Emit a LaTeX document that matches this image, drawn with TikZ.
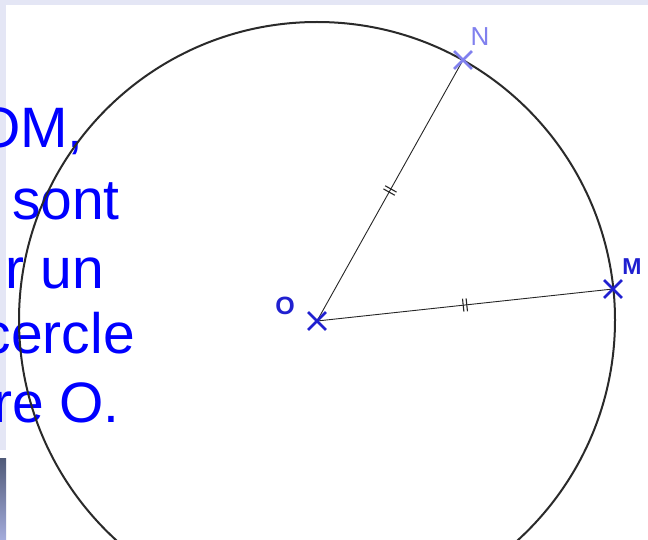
\documentclass[tikz,border=0pt]{standalone}
\usepackage{fontspec}
\setmainfont{Liberation Sans}
\usetikzlibrary{shapes.misc,decorations.markings}
\definecolor{strip}{HTML}{E4E6F5}
\definecolor{txtblue}{HTML}{0000FF}
\definecolor{ptblue}{HTML}{2020D0}
\definecolor{nblue}{HTML}{8080EE}
\definecolor{circgray}{HTML}{2A2A2A}
\tikzset{
  txt/.style={text=txtblue, inner sep=0pt, anchor=base east, font=\fontsize{57}{68}\selectfont},
  ptx/.style={cross out, draw=ptblue, line width=2.8pt, minimum size=15pt, inner sep=0pt},
  lbl/.style={text=ptblue, inner sep=0pt, font=\bfseries\fontsize{25}{28}\selectfont},
  seg/.style={line width=0.9pt, black!85},
  ticks/.style={postaction={decorate, decoration={markings, mark=at position 0.5 with {\draw[line width=1.1pt] (-1.8,-6.5) -- (-1.8,6.5) (1.8,-6.5) -- (1.8,6.5);}}}},
  circ/.style={draw=circgray, line width=2pt}
}
\begin{document}
\begin{tikzpicture}[x=1pt,y=-1pt]
\useasboundingbox (0,0) rectangle (648,540);
\clip (0,0) rectangle (648,540);
\fill[white] (0,0) rectangle (648,540);
\fill[strip] (0,0) rectangle (648,5);
\fill[strip] (0,0) rectangle (6,450);
\shade[top color={rgb,255:red,80;green,90;blue,120}, bottom color={rgb,255:red,164;green,172;blue,220}] (0,458) rectangle (6,540);
% text lines
\node[txt] (t1) at (84,148) {OM,};
\node[txt] (t2) at (120,220) {sont};
\node[txt] (t3) at (104,288) {r un};
\node[txt] (t4) at (135,353) {cercle};
\node[txt] (t5) at (120,422) {re O.};
% circle
\node[circle, circ, minimum size=596pt, inner sep=0pt] (C) at (317,320) {};
% points
\coordinate (O) at (317,321);
\coordinate (N) at (463,60);
\coordinate (M) at (613,289);
\draw[seg, ticks] (O) -- (N);
\draw[seg, ticks] (O) -- (M);
\node[ptx] (Ox) at (O) {};
\node[ptx, draw=nblue] (Nx) at (N) {};
\node[ptx] (Mx) at (M) {};
\node[lbl] (Ol) at (285,306) {O};
\node[lbl, text=nblue, font=\fontsize{26}{28}\selectfont] (Nl) at (480,37) {N};
\node[lbl, font=\bfseries\fontsize{23}{26}\selectfont] (Ml) at (632,267) {M};
\end{tikzpicture}
\end{document}
